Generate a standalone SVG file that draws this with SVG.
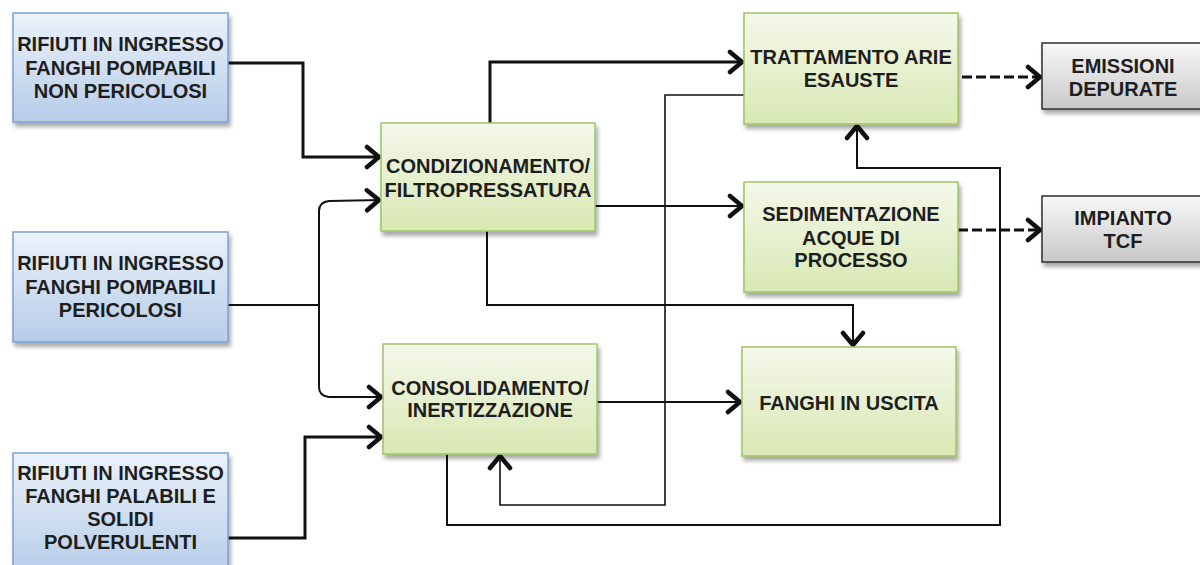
<svg xmlns="http://www.w3.org/2000/svg" width="1200" height="565" viewBox="0 0 1200 565">
<style>
.t{font-family:"Liberation Sans",Arial,sans-serif;font-weight:bold;font-size:20px;fill:#1e1e1e;text-anchor:middle}
.blue{fill:url(#gBlue);stroke:#79a3d4;stroke-width:1.5}
.green{fill:url(#gGreen);stroke:#9fc463;stroke-width:1.5}
.grey{fill:url(#gGrey);stroke:#2e2e2e;stroke-width:1.5}
.c{fill:none;stroke:#111;stroke-linejoin:miter}
.w3{stroke-width:3}
.w2{stroke-width:2}
.w1{stroke-width:1.6}
.dash{stroke-dasharray:10 4}
</style>
<defs>
<linearGradient id="gBlue" x1="0" y1="0" x2="0" y2="1"><stop offset="0" stop-color="#ebf2fa"/><stop offset="1" stop-color="#b6cce9"/></linearGradient>
<linearGradient id="gGreen" x1="0" y1="0" x2="0" y2="1"><stop offset="0" stop-color="#f4f8eb"/><stop offset="1" stop-color="#d9e8b3"/></linearGradient>
<linearGradient id="gGrey" x1="0" y1="0" x2="0" y2="1"><stop offset="0" stop-color="#f8f8f8"/><stop offset="1" stop-color="#c8c8c8"/></linearGradient>
<filter id="sh" x="-10%" y="-10%" width="125%" height="135%"><feDropShadow dx="2" dy="4" stdDeviation="2" flood-color="#000" flood-opacity="0.35"/></filter>
<marker id="ah" markerUnits="userSpaceOnUse" markerWidth="22" markerHeight="26" viewBox="0 0 22 26" refX="18" refY="13" orient="auto">
<path d="M4,3 L16,13 L4,23" fill="none" stroke="#111" stroke-width="4.5" stroke-linecap="round" stroke-linejoin="round"/>
</marker>
</defs>

<g id="connectors">
<path class="c w3" d="M228,63 H303 V157 H381" marker-end="url(#ah)"/>
<path class="c w2" d="M228,305 H319"/>
<path class="c w2" d="M319,305 V211 Q319,202 329,201 L381,200" marker-end="url(#ah)"/>
<path class="c w2" d="M319,305 V387 Q319,396 329,397 L383,397" marker-end="url(#ah)"/>
<path class="c w3" d="M228,538 H305 V437 H383" marker-end="url(#ah)"/>
<path class="c w3" d="M490,123 V62 H744" marker-end="url(#ah)"/>
<path class="c w2" d="M595,206 H744" marker-end="url(#ah)"/>
<path class="c w2" d="M487,231 V305 H853 V347" marker-end="url(#ah)"/>
<path class="c w2" d="M597,402 H742" marker-end="url(#ah)"/>
<path class="c w1" d="M744,95 H665 V505 H500 V454" marker-end="url(#ah)"/>
<path class="c w2" d="M447,454 V525 H1000 V168 H857 V124" marker-end="url(#ah)"/>
<path class="c w3 dash" d="M962,77 H1042" marker-end="url(#ah)"/>
<path class="c w3 dash" d="M958,230 H1042" marker-end="url(#ah)"/>
</g>

<g id="in1"><rect class="blue" x="13" y="13" width="215" height="109" filter="url(#sh)"/>
<text class="t" x="120.5" y="51">RIFIUTI IN INGRESSO</text><text class="t" x="120.5" y="75">FANGHI POMPABILI</text><text class="t" x="120.5" y="98">NON PERICOLOSI</text></g>

<g id="in2"><rect class="blue" x="13" y="232" width="215" height="110" filter="url(#sh)"/>
<text class="t" x="120.5" y="270">RIFIUTI IN INGRESSO</text><text class="t" x="120.5" y="294">FANGHI POMPABILI</text><text class="t" x="120.5" y="317">PERICOLOSI</text></g>

<g id="in3"><rect class="blue" x="13" y="453" width="215" height="122" filter="url(#sh)"/>
<text class="t" x="120.5" y="480">RIFIUTI IN INGRESSO</text><text class="t" x="120.5" y="503">FANGHI PALABILI E</text><text class="t" x="120.5" y="526">SOLIDI</text><text class="t" x="120.5" y="549">POLVERULENTI</text></g>

<g id="cond"><rect class="green" x="381" y="123" width="214" height="108" filter="url(#sh)"/>
<text class="t" x="488" y="173">CONDIZIONAMENTO/</text><text class="t" x="488" y="197">FILTROPRESSATURA</text></g>

<g id="consol"><rect class="green" x="383" y="344" width="214" height="110" filter="url(#sh)"/>
<text class="t" x="490" y="395">CONSOLIDAMENTO/</text><text class="t" x="490" y="417">INERTIZZAZIONE</text></g>

<g id="tratt"><rect class="green" x="744" y="13" width="214" height="111" filter="url(#sh)"/>
<text class="t" x="851" y="64">TRATTAMENTO ARIE</text><text class="t" x="851" y="87">ESAUSTE</text></g>

<g id="sed"><rect class="green" x="744" y="182" width="214" height="110" filter="url(#sh)"/>
<text class="t" x="851" y="221">SEDIMENTAZIONE</text><text class="t" x="851" y="245">ACQUE DI</text><text class="t" x="851" y="267">PROCESSO</text></g>

<g id="fanghi"><rect class="green" x="742" y="347" width="214" height="109" filter="url(#sh)"/>
<text class="t" x="849" y="410">FANGHI IN USCITA</text></g>

<g id="emis"><rect class="grey" x="1042" y="43" width="165" height="66" filter="url(#sh)"/>
<text class="t" x="1123" y="73">EMISSIONI</text><text class="t" x="1123" y="96">DEPURATE</text></g>

<g id="tcf"><rect class="grey" x="1042" y="196" width="165" height="66" filter="url(#sh)"/>
<text class="t" x="1123" y="225">IMPIANTO</text><text class="t" x="1123" y="248">TCF</text></g>
</svg>
